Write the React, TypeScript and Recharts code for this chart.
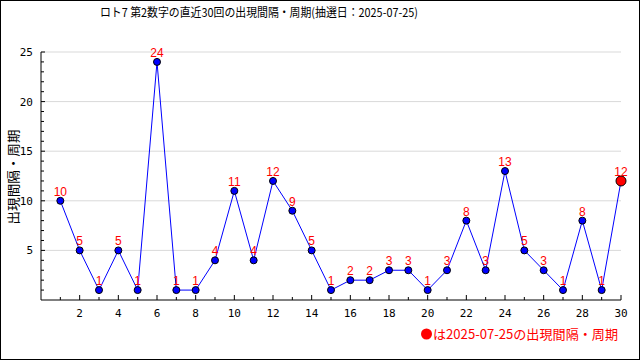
import { CartesianGrid, LabelList, Line, LineChart, XAxis, YAxis } from 'recharts';

// 直近30回の出現間隔（第2数字）
const draws = [1, 2, 3, 4, 5, 6, 7, 8, 9, 10, 11, 12, 13, 14, 15, 16, 17, 18, 19, 20, 21, 22, 23, 24, 25, 26, 27, 28, 29, 30];
const intervals = [10, 5, 1, 5, 1, 24, 1, 1, 4, 11, 4, 12, 9, 5, 1, 2, 2, 3, 3, 1, 3, 8, 3, 13, 5, 3, 1, 8, 1, 12];

const xTicks = [1, 2, 3, 4, 5, 6, 7, 8, 9, 10, 11, 12, 13, 14, 15, 16, 17, 18, 19, 20, 21, 22, 23, 24, 25, 26, 27, 28, 29, 30];
const yTicks = [1, 2, 3, 4, 5, 6, 7, 8, 9, 10, 11, 12, 13, 14, 15, 16, 17, 18, 19, 20, 21, 22, 23, 24, 25];
const gridValues = [5, 10, 15, 20, 25];

const title = 'ロト7 第2数字の直近30回の出現間隔・周期(抽選日：2025-07-25)';
const yLabel = '出現間隔・周期';
const legendText = 'は2025-07-25の出現間隔・周期';

const data = draws.map((draw, i) => ({ draw, interval: intervals[i] }));

const tickFont = 'DejaVu Sans Mono, monospace';
const jpFont = '"Noto Sans CJK JP", sans-serif';

function XTick({ x, y, payload }: any) {
  const major = payload.value % 2 === 0;
  return (
    <g>
      <line x1={x} x2={x} y1={y} y2={y - (major ? 5 : 3)} stroke="#000" />
      {major && (
        <text x={x} y={y + 17} textAnchor="middle" fontSize={11} fontFamily={tickFont} fill="#000">
          {payload.value}
        </text>
      )}
    </g>
  );
}

function YTick({ x, y, payload }: any) {
  const major = payload.value % 5 === 0;
  return (
    <g>
      <line x1={x} x2={x + (major ? 4 : 3)} y1={y} y2={y} stroke="#000" />
      {major && (
        <text x={x - 8} y={y + 4} textAnchor="end" fontSize={11} fontFamily={tickFont} fill="#000">
          {payload.value}
        </text>
      )}
    </g>
  );
}

function Dot({ cx, cy, index }: any) {
  const last = index === data.length - 1;
  return (
    <circle
      key={`dot-${index}`}
      cx={cx}
      cy={cy}
      r={last ? 5 : 3.5}
      fill={last ? '#ff0000' : '#0000ff'}
      stroke="#000"
      strokeWidth={1}
    />
  );
}

export default function App() {
  return (
    <div style={{ position: 'absolute', left: 0, top: 0, width: 640, height: 360, background: '#fff' }}>
      <LineChart width={640} height={360} data={data} margin={{ top: 52, right: 19, left: 0, bottom: 40 }}>
        <CartesianGrid vertical={false} horizontalValues={gridValues} stroke="#d9d9d9" />
        <XAxis
          type="number"
          dataKey="draw"
          domain={[0, 30]}
          ticks={xTicks}
          interval={0}
          height={20}
          tickSize={0}
          tickMargin={0}
          axisLine={{ stroke: '#000' }}
          tick={<XTick />}
        />
        <YAxis
          type="number"
          domain={[0, 25]}
          ticks={yTicks}
          interval={0}
          width={41}
          tickSize={0}
          tickMargin={0}
          axisLine={{ stroke: '#000' }}
          tick={<YTick />}
        />
        <Line
          type="linear"
          dataKey="interval"
          stroke="#0000ff"
          strokeWidth={1}
          dot={<Dot />}
          activeDot={false}
          isAnimationActive={false}
        >
          <LabelList dataKey="interval" position="top" offset={5} fill="#ff0000" fontSize={12} fontFamily="Liberation Sans, Arial, sans-serif" />
        </Line>
      </LineChart>
      <svg width={640} height={360} style={{ position: 'absolute', left: 0, top: 0, pointerEvents: 'none' }}>
        <rect x={0.5} y={0.5} width={639} height={359} fill="none" stroke="#000" />
        <text x={100} y={17} fontSize={12} fontFamily={jpFont} fill="#000" textLength={318} lengthAdjust="spacingAndGlyphs">
          {title}
        </text>
        <text
          transform="translate(12,177) rotate(-90)"
          textAnchor="middle"
          dominantBaseline="central"
          fontSize={13}
          fontFamily={jpFont}
          fill="#000"
          textLength={95}
          lengthAdjust="spacingAndGlyphs"
        >
          {yLabel}
        </text>
        <circle cx={426.5} cy={334} r={5.5} fill="#ff0000" />
        <text x={433} y={339} fontSize={13} fontFamily={jpFont} fill="#ff0000" textLength={185} lengthAdjust="spacingAndGlyphs">
          {legendText}
        </text>
      </svg>
    </div>
  );
}
